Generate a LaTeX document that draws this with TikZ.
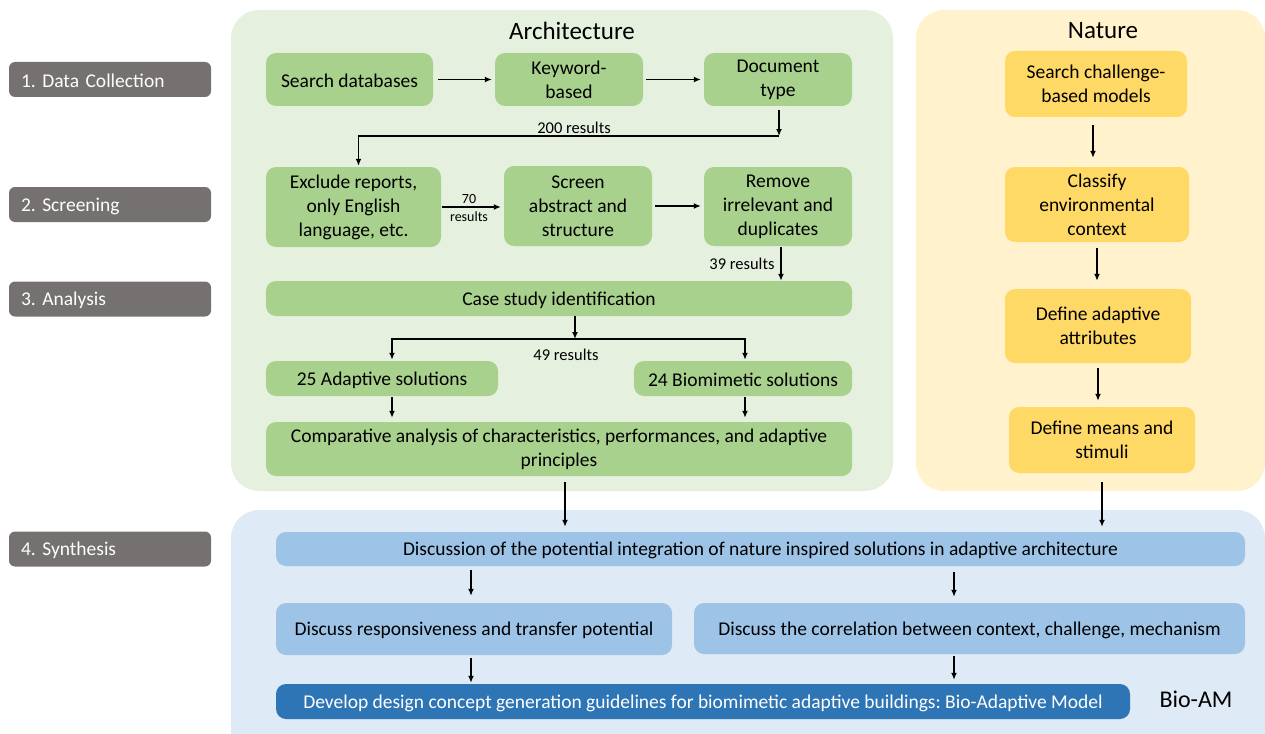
\documentclass[tikz,border=0pt]{standalone}
\usepackage{fontspec}
\setmainfont{Carlito}
\usetikzlibrary{arrows.meta}
\frenchspacing
\definecolor{panelgreen}{HTML}{E6F0DF}
\definecolor{panelyellow}{HTML}{FFF2CC}
\definecolor{panelblue}{HTML}{DEEAF6}
\definecolor{boxgreen}{HTML}{A9D18E}
\definecolor{boxyellow}{HTML}{FFD966}
\definecolor{boxblue}{HTML}{9DC3E6}
\definecolor{boxdark}{HTML}{2E75B6}
\definecolor{labgray}{HTML}{767171}
\tikzset{
  arr/.style={-{Latex[length=7pt,width=6pt]}, line width=1.7pt},
  panel/.style={rounded corners=28pt},
  box/.style={rounded corners=10pt, align=center, inner sep=0pt, font=\fontsize{19.5}{24}\selectfont, execute at begin node={\rule{0pt}{17pt}}},
  gbox/.style={box, fill=boxgreen},
  ybox/.style={box, fill=boxyellow},
  bbox/.style={box, fill=boxblue},
  dbox/.style={box, fill=boxdark, text=white},
  lab/.style={rounded corners=6pt, fill=labgray, text=white, align=left, inner xsep=12pt, inner ysep=0pt, text width=178pt, minimum height=35pt, font=\fontsize{19.5}{24}\selectfont, execute at begin node={\rule{0pt}{17pt}}},
  title/.style={font=\fontsize{25}{30}\selectfont},
  res/.style={font=\fontsize{16.5}{20}\selectfont},
  smallres/.style={font=\fontsize{14}{16}\selectfont},
}
\begin{document}
\begin{tikzpicture}[x=1pt,y=-1pt]
\useasboundingbox (0,0) rectangle (1265,733);
\clip (0,0) rectangle (1265,733);
% panels
\fill[panel, panelgreen] (231,10) rectangle (893,491);
\fill[panel, panelyellow] (916,10) rectangle (1265,491);
\fill[panel, panelblue] (231,510) rectangle (1265,760);
\node[title] (tarch) at (572,31) {Architecture};
\node[title] (tnat) at (1103,31) {Nature};
\node[font=\fontsize{24}{28}\selectfont] (bioam) at (1196,699) {Bio-AM};
% left labels
\node[lab] (l1) at (110,79.5) {1. Data Collection};
\node[lab] (l2) at (110,204.5) {2. Screening};
\node[lab] (l3) at (110,299) {3. Analysis};
\node[lab] (l4) at (110,549) {4. Synthesis};
% architecture
\node[gbox, minimum width=167, minimum height=53] (sd) at (349.5,79.5) {Search databases};
\node[gbox, minimum width=148, minimum height=53] (kw) at (569,79.5) {Keyword-\\based};
\node[gbox, minimum width=148, minimum height=53] (dt) at (778,79.5) {Document\\type};
\node[gbox, minimum width=175, minimum height=80] (ex) at (353.5,207) {Exclude reports,\\only English\\language, etc.};
\node[gbox, minimum width=148, minimum height=80] (sa) at (578,206) {Screen\\abstract and\\structure};
\node[gbox, minimum width=148, minimum height=79] (rm) at (778,206.5) {Remove\\irrelevant and\\duplicates};
\node[gbox, minimum width=586, minimum height=35] (cs) at (559,298.5) {Case study identification};
\node[gbox, minimum width=232, minimum height=35] (ad) at (382,378.5) {25 Adaptive solutions};
\node[gbox, minimum width=218, minimum height=35] (bi) at (743,378.5) {24 Biomimetic solutions};
\node[gbox, minimum width=586, minimum height=54] (ca) at (559,449) {Comparative analysis of characteristics, performances, and adaptive\\principles};
% nature
\node[ybox, minimum width=182, minimum height=66] (n1) at (1096,84) {Search challenge-\\based models};
\node[ybox, minimum width=184, minimum height=75] (n2) at (1097,204.5) {Classify\\environmental\\context};
\node[ybox, minimum width=186, minimum height=74] (n3) at (1098,326) {Define adaptive\\attributes};
\node[ybox, minimum width=186, minimum height=66] (n4) at (1102,440) {Define means and\\stimuli};
% synthesis
\node[bbox, minimum width=969, minimum height=34] (d1) at (760.5,549) {Discussion of the potential integration of nature inspired solutions in adaptive architecture};
\node[bbox, minimum width=396, minimum height=52] (d2) at (474,629) {Discuss responsiveness and transfer potential};
\node[bbox, minimum width=551, minimum height=51] (d3) at (969.5,628.5) {Discuss the correlation between context, challenge, mechanism};
\node[dbox, minimum width=854, minimum height=35] (d4) at (703,701.5) {Develop design concept generation guidelines for biomimetic adaptive buildings: Bio-Adaptive Model};
% connectors row 1
\draw[arr, shorten <=5pt, shorten >=3pt] (sd.east) -- (kw.west);
\draw[arr, shorten <=3pt, shorten >=3pt] (kw.east) -- (dt.west);
\coordinate (c1) at (779,136);
\draw[arr, shorten <=4pt] ([xshift=1pt]dt.south) -- (c1);
\draw[arr, shorten >=1pt] (c1) -| ([xshift=5pt]ex.north);
\node[res] (r200) at (574,128) {200 results};
% row 2
\draw[arr, shorten <=1pt, shorten >=3pt] (ex.east) -- (ex.east -| sa.west);
\node[smallres] (r70a) at (469,199) {70};
\node[smallres] (r70b) at (469,217) {results};
\draw[arr, shorten <=3pt, shorten >=3pt] (sa.east) -- (sa.east -| rm.west);
\draw[arr, shorten <=1pt] ([xshift=3pt]rm.south) -- ([xshift=3pt]rm.south |- cs.north);
\node[res, anchor=east] (r39) at (778,264) {39 results};
% row 3
\coordinate (c2) at (575,339);
\draw[arr] ([xshift=16pt]cs.south) -- (c2);
\draw[arr, shorten >=1pt] (c2) -| ([xshift=10pt]ad.north);
\draw[arr, shorten >=1pt] (c2) -| ([xshift=2pt]bi.north);
\node[res] (r49) at (566,355) {49 results};
\draw[arr, shorten <=1pt, shorten >=4pt] ([xshift=10pt]ad.south) -- ([xshift=10pt]ad.south |- ca.north);
\draw[arr, shorten <=1pt, shorten >=4pt] ([xshift=2pt]bi.south) -- ([xshift=2pt]bi.south |- ca.north);
% into synthesis
\draw[arr, shorten <=6pt, shorten >=5pt] ([xshift=6pt]ca.south) -- ([xshift=6pt]ca.south |- d1.north);
% nature
\draw[arr, shorten <=8pt, shorten >=9pt] ([xshift=-3pt]n1.south) -- ([xshift=-3pt]n1.south |- n2.north);
\draw[arr, shorten <=6pt, shorten >=8pt] (n2.south) -- (n2.south |- n3.north);
\draw[arr, shorten <=5pt, shorten >=6pt] (n3.south) -- (n3.south |- n4.north);
\draw[arr, shorten <=9pt, shorten >=5pt] (n4.south) -- (n4.south |- d1.north);
% synthesis
\draw[arr, shorten <=4pt, shorten >=7pt] ([xshift=-3pt]d2.north |- d1.south) -- ([xshift=-3pt]d2.north);
\draw[arr, shorten <=6pt, shorten >=6pt] ([xshift=-15.5pt]d3.north |- d1.south) -- ([xshift=-15.5pt]d3.north);
\draw[arr, shorten <=3pt, shorten >=1pt] ([xshift=-3pt]d2.south) -- ([xshift=-3pt]d2.south |- d4.north);
\draw[arr, shorten <=2pt, shorten >=4pt] ([xshift=-15.5pt]d3.south) -- ([xshift=-15.5pt]d3.south |- d4.north);
\end{tikzpicture}
\end{document}
